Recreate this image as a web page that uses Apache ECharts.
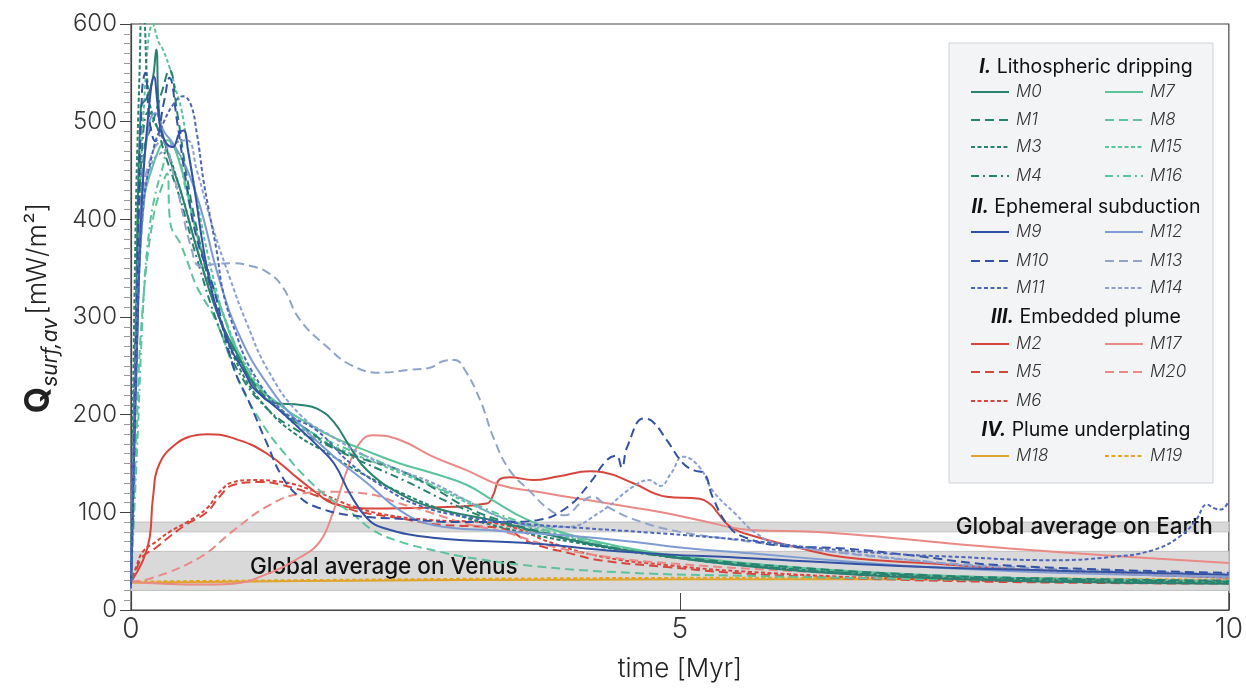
<!DOCTYPE html>
<html><head><meta charset="utf-8">
<script src="https://cdn.jsdelivr.net/npm/echarts@6/dist/echarts.min.js"></script>
<style>html,body{margin:0;padding:0;background:#fff}#c{width:1246px;height:688px}</style>
</head><body><div id="c"></div><script>
// ---- data: [time Myr, Q mW/m2] ----
const M0 = [[0,28],[0.04,250],[0.09,515],[0.15,525],[0.2,545],[0.23,574],[0.26,505],[0.33,470],[0.45,430],[0.6,370],[0.8,300],[1.0,255],[1.15,225],[1.3,212],[1.55,210],[1.7,206],[1.85,192],[2.0,166],[2.15,143],[2.45,119],[2.75,105],[3.36,90],[4,72],[5,53],[6,41],[7,34],[8,30],[9,28],[10,27]];
const M1 = [[0,28],[0.05,300],[0.12,470],[0.2,500],[0.28,530],[0.35,553],[0.42,510],[0.5,450],[0.6,390],[0.75,320],[0.9,275],[1.1,235],[1.35,205],[1.6,185],[1.84,167],[2.1,155],[2.45,143],[2.8,122],[3.06,105],[3.36,92],[3.8,78],[4.3,65],[5,54],[6,44],[7,37],[8,33],[10,30]];
const M3 = [[0,28],[0.04,380],[0.08,560],[0.1,615],[0.12,610],[0.15,540],[0.2,505],[0.3,480],[0.45,430],[0.6,370],[0.8,300],[1.0,245],[1.25,205],[1.5,180],[1.8,160],[2.1,140],[2.5,118],[2.9,100],[3.4,84],[4,70],[5,53],[6,42],[7,35],[8,31],[10,28]];
const M4 = [[0,28],[0.05,330],[0.1,470],[0.16,510],[0.22,500],[0.3,470],[0.45,420],[0.6,360],[0.8,290],[1.0,240],[1.25,205],[1.5,185],[1.8,168],[2.1,152],[2.5,132],[2.9,110],[3.3,92],[3.8,77],[4.4,63],[5,53],[6,42],[7,36],[8,32],[10,29]];
const M7 = [[0,28],[0.05,260],[0.11,409],[0.2,455],[0.33,481],[0.45,455],[0.6,385],[0.8,315],[1.08,240],[1.38,208],[1.6,192],[1.84,177],[2.1,165],[2.45,150],[2.75,140],[3.06,128],[3.3,112],[3.6,93],[4.0,77],[4.5,64],[5,55],[6,44],[7,37],[8,33],[10,29]];
const M8 = [[0,28],[0.05,180],[0.1,300],[0.2,400],[0.3,440],[0.33,447],[0.36,395],[0.45,375],[0.51,358],[0.6,331],[0.77,297],[1.0,230],[1.2,190],[1.4,160],[1.6,135],[1.8,115],[2.0,100],[2.2,82],[2.45,70],[2.8,60],[3.06,54],[3.66,45],[4.57,38],[5.6,35],[7,32],[8.5,30],[10,29]];
const M15 = [[0,28],[0.06,330],[0.12,520],[0.2,600],[0.25,582],[0.29,574],[0.35,556],[0.4,536],[0.46,512],[0.51,478],[0.6,420],[0.75,340],[0.9,285],[1.1,240],[1.35,205],[1.6,182],[1.9,165],[2.2,152],[2.5,138],[2.8,124],[3.1,108],[3.5,90],[4,74],[4.5,62],[5,54],[6,43],[7,36],[8,32],[10,29]];
const M16 = [[0,28],[0.05,150],[0.12,330],[0.17,392],[0.22,425],[0.29,454],[0.35,478],[0.42,470],[0.5,430],[0.65,365],[0.85,300],[1.05,250],[1.3,212],[1.6,185],[1.9,168],[2.2,155],[2.5,140],[2.8,125],[3.1,110],[3.5,92],[4,75],[4.5,63],[5,55],[6,44],[7,37],[8,33],[10,30]];
const M9 = [[0,25],[0.05,250],[0.1,420],[0.16,510],[0.21,546],[0.24,520],[0.27,492],[0.32,478],[0.38,474],[0.44,488],[0.48,491],[0.52,470],[0.58,430],[0.66,370],[0.75,320],[0.85,285],[0.93,263],[1.0,250],[1.05,240],[1.11,228],[1.24,215],[1.4,200],[1.55,184],[1.7,168],[1.85,150],[2.0,118],[2.15,94],[2.3,84],[2.75,74],[3.66,68],[4.57,59],[5.64,53],[7,45],[8.5,40],[10,36]];
const M10 = [[0,28],[0.05,300],[0.1,530],[0.13,550],[0.17,500],[0.22,480],[0.3,520],[0.35,545],[0.42,500],[0.5,440],[0.6,380],[0.75,330],[0.93,250],[1.08,212],[1.24,170],[1.38,136],[1.54,115],[1.7,105],[2.0,97],[2.5,93],[3.0,90],[3.4,90],[3.7,92],[3.97,105],[4.18,130],[4.33,153],[4.42,158],[4.47,146],[4.52,167],[4.67,196],[4.75,193],[4.88,174],[5.03,150],[5.13,143],[5.22,140],[5.3,115],[5.45,85],[5.6,74],[5.9,66],[6.5,63],[7.1,56],[7.9,46],[10,38]];
const M11 = [[0,22],[0.05,250],[0.1,400],[0.2,470],[0.3,500],[0.4,520],[0.47,526],[0.54,519],[0.6,488],[0.66,440],[0.72,403],[0.78,368],[0.84,325],[0.95,285],[1.1,245],[1.38,204],[1.69,184],[2.0,150],[2.3,126],[2.6,108],[3.06,95],[3.5,89],[3.97,85],[4.88,78],[5.64,71],[6.2,64],[7.0,57],[7.4,55],[8.4,51],[8.9,54],[9.3,61],[9.55,75],[9.7,92],[9.8,108],[9.87,104],[9.93,103],[10,112]];
const M12 = [[0,25],[0.05,280],[0.1,430],[0.17,500],[0.22,509],[0.3,490],[0.38,478],[0.5,454],[0.63,413],[0.8,340],[1.0,278],[1.25,230],[1.54,190],[1.84,158],[2.15,130],[2.45,102],[2.75,87],[3.36,81],[4.0,76],[4.57,70],[5.0,64],[5.64,58],[6.5,50],[7.4,43],[8.5,38],[10,34]];
const M13 = [[0,28],[0.05,300],[0.1,420],[0.2,470],[0.28,480],[0.4,440],[0.55,370],[0.63,352],[0.75,354],[0.93,355],[1.1,352],[1.24,346],[1.38,331],[1.54,297],[1.8,268],[2.0,251],[2.27,243],[2.54,246],[2.72,248],[2.85,255],[2.95,256],[3.04,246],[3.18,215],[3.31,174],[3.45,143],[3.63,122],[3.82,102],[3.95,97],[4.1,110],[4.2,116],[4.35,105],[4.6,92],[5.0,80],[5.5,72],[6,65],[7,52],[8,44],[9,40],[10,37]];
const M14 = [[0,25],[0.05,260],[0.12,420],[0.2,460],[0.3,470],[0.4,478],[0.51,481],[0.6,450],[0.75,390],[0.9,340],[1.05,295],[1.25,245],[1.54,200],[1.84,177],[2.15,157],[2.45,143],[2.75,130],[3.06,112],[3.36,95],[3.66,86],[3.97,85],[4.27,100],[4.57,126],[4.72,133],[4.82,127],[4.92,140],[5.03,157],[5.18,146],[5.3,122],[5.5,99],[5.7,78],[5.9,68],[6.8,55],[8,42],[9,37],[10,33]];
const M2 = [[0,29],[0.11,51],[0.17,74],[0.2,115],[0.26,150],[0.42,171],[0.55,178],[0.69,180],[0.93,176],[1.24,160],[1.54,133],[1.7,119],[1.84,109],[2.15,104],[2.75,105],[3.24,109],[3.3,118],[3.36,134],[3.45,136],[3.66,133],[3.9,137],[4.18,142],[4.3,141],[4.57,130],[4.88,116],[5.18,114],[5.28,108],[5.34,100],[5.45,86],[5.6,78],[6.07,64],[6.5,54],[7.37,47],[8,42],[9,37],[10,33]];
const M5 = [[0,28],[0.05,42],[0.11,55],[0.23,64],[0.35,75],[0.51,88],[0.69,100],[0.8,115],[0.93,128],[1.17,131],[1.38,128],[1.69,117],[2.0,103],[2.15,99],[2.45,94],[2.75,88],[3.06,86],[3.36,84],[3.66,68],[4.0,58],[4.27,51],[4.88,44],[5.64,37],[7,31],[8.5,28],[10,27]];
const M6 = [[0,28],[0.05,45],[0.11,60],[0.23,70],[0.35,80],[0.51,90],[0.69,104],[0.8,120],[0.93,131],[1.1,133],[1.38,131],[1.69,121],[2.0,107],[2.3,98],[2.75,92],[3.2,90],[3.5,84],[3.8,70],[4.27,55],[4.88,46],[5.64,39],[7,32],[8.5,29],[10,28]];
const M17 = [[0,29],[0.3,27],[0.6,26],[0.93,27],[1.24,37],[1.54,54],[1.72,70],[1.84,100],[1.99,150],[2.09,172],[2.2,179],[2.45,174],[2.75,157],[3.06,143],[3.36,128],[3.7,121],[3.97,116],[4.57,105],[4.88,99],[5.18,92],[5.64,82],[6.21,80],[6.82,75],[7.37,69],[8.0,63],[9.0,55],[10,48]];
const M20 = [[0,29],[0.2,33],[0.63,54],[0.93,81],[1.24,106],[1.54,119],[1.8,121],[2.15,119],[2.45,109],[2.75,99],[3.06,88],[3.4,80],[3.8,66],[4.3,55],[5,47],[6,40],[7,35],[8.5,32],[10,30]];
const M18 = [[0,28],[2,30],[4,31],[6,31.5],[8,31],[10,30]];
const M19 = [[0,29],[2,31],[4,32.5],[6,33],[8,32.5],[10,31]];

const EARTH_BAND = [80, 90];
const VENUS_BAND = [20, 60];
const X_RANGE = [0, 10];
const Y_RANGE = [0, 600];
const GROUP_TITLES = [['I.', 'Lithospheric dripping'], ['II.', 'Ephemeral subduction'], ['III.', 'Embedded plume'], ['IV.', 'Plume underplating']];
const BAND_LABELS = ['Global average on Earth', 'Global average on Venus'];

// ---- styling ----
const FONT = 'Inter, "Noto Sans", sans-serif';
const COL = {teal:'#2a8170', mint:'#5dc39b', blue:'#3452a4', blueM:'#4d66b8', blueL:'#7e9bd2', blueG:'#8fa4c8', blueLD:'#8c9fd0', red:'#d7463c', pink:'#ea8a86', gold:'#e0a52a'};
const DASH = {solid:'solid', dashed:[9,5], dotted:[4,2.5], dashdot:[8,4,2,4]};

const defs = [
  ['M18', M18, COL.gold, 'solid'], ['M19', M19, COL.gold, 'dotted'],
  ['M2', M2, COL.red, 'solid'], ['M5', M5, COL.red, 'dashed'], ['M6', M6, COL.red, 'dotted'],
  ['M17', M17, COL.pink, 'solid'], ['M20', M20, COL.pink, 'dashed'],
  ['M7', M7, COL.mint, 'solid'], ['M8', M8, COL.mint, 'dashed'], ['M15', M15, COL.mint, 'dotted'], ['M16', M16, COL.mint, 'dashdot'],
  ['M0', M0, COL.teal, 'solid'], ['M1', M1, COL.teal, 'dashed'], ['M3', M3, COL.teal, 'dotted'], ['M4', M4, COL.teal, 'dashdot'],
  ['M12', M12, COL.blueL, 'solid'], ['M13', M13, COL.blueG, 'dashed'], ['M14', M14, COL.blueLD, 'dotted'],
  ['M9', M9, COL.blue, 'solid'], ['M10', M10, COL.blue, 'dashed'], ['M11', M11, COL.blueM, 'dotted']
];

const series = [{
  type:'line', name:'bands', data:[], silent:true, z:1,
  markArea:{silent:true, itemStyle:{color:'#d9d9d9', borderColor:'#c2c2c2', borderWidth:1},
    data:[[{yAxis:EARTH_BAND[0]},{yAxis:EARTH_BAND[1]}],[{yAxis:VENUS_BAND[0]},{yAxis:VENUS_BAND[1]}]]}
}];
defs.forEach(d => series.push({
  type:'line', name:d[0], data:d[1], symbol:'none', smooth:0.45, z:2,
  color:d[2], lineStyle:{color:d[2], width:2, type:DASH[d[3]]}, emphasis:{disabled:true}
}));
series.push({
  type:'line', name:'bandLabels', data:[], silent:true, z:20,
  markArea:{silent:true, itemStyle:{color:'rgba(0,0,0,0)'},
    label:{fontFamily:FONT, fontSize:22.5, fontWeight:500, color:'#111'},
    data:[[{yAxis:EARTH_BAND[0], name:BAND_LABELS[0], label:{position:'insideRight', offset:[-11,0]}},{yAxis:EARTH_BAND[1]}],
          [{yAxis:VENUS_BAND[0], name:BAND_LABELS[1], label:{position:'insideLeft', offset:[114,-4]}},{yAxis:VENUS_BAND[1]}]]}
});

// legend layout (one legend per entry)
const legendRows = [
  ['M0',970,92],['M1',970,120],['M3',970,147],['M4',970,176],
  ['M7',1104,92],['M8',1104,120],['M15',1104,147],['M16',1104,176],
  ['M9',970,232],['M10',970,261],['M11',970,288],
  ['M12',1104,232],['M13',1104,261],['M14',1104,288],
  ['M2',970,344],['M5',970,372],['M6',970,401],
  ['M17',1104,344],['M20',1104,372],
  ['M18',970,456],['M19',1104,456]
];
const legends = legendRows.map(r => ({
  data:[r[0]], left:r[1], top:r[2]-10, padding:0, itemWidth:38, itemHeight:14, itemGap:0,
  selectedMode:false,
  itemStyle:{color:'rgba(0,0,0,0)', borderWidth:0, borderColor:'rgba(0,0,0,0)', opacity:0},
  textStyle:{fontFamily:FONT, fontSize:17, fontStyle:'italic', fontWeight:300, color:'#333', lineHeight:20, padding:[0,0,0,2]}
}));

const titleY = [67, 207, 317, 430];
const graphics = [{type:'rect', z:3, shape:{x:949, y:43, width:264, height:440}, style:{fill:'#f3f4f6', stroke:'#cfd3d8', lineWidth:1}}];
GROUP_TITLES.forEach((g, i) => graphics.push({
  type:'text', z:5, x:1086, y:titleY[i],
  style:{text:'{b|' + g[0] + '} ' + g[1], align:'center', verticalAlign:'middle', fontFamily:FONT, fontSize:19.5, fill:'#111',
    rich:{b:{fontFamily:FONT, fontSize:19.5, fontWeight:'bold', fontStyle:'italic', fill:'#111'}}}
}));

const option = {
  animation:false,
  backgroundColor:'#fff',
  grid:{left:131, right:17, top:24, bottom:78, show:true, borderColor:'#444', borderWidth:1.2, backgroundColor:'transparent'},
  xAxis:{type:'value', min:X_RANGE[0], max:X_RANGE[1], interval:5,
    name:'time [Myr]', nameLocation:'middle', nameGap:46,
    nameTextStyle:{fontFamily:FONT, fontSize:26, fontWeight:300, color:'#222'},
    axisLine:{lineStyle:{color:'#444', width:1.2}},
    axisTick:{inside:true, length:17, lineStyle:{color:'#444'}},
    axisLabel:{fontFamily:FONT, fontSize:28, fontWeight:300, color:'#333', margin:6},
    splitLine:{show:false}},
  yAxis:{type:'value', min:Y_RANGE[0], max:Y_RANGE[1], interval:100,
    name:'{q|Q}{s|surf,av} {u|[mW/m²]}', nameLocation:'middle', nameGap:68,
    nameTextStyle:{padding:[0,0,0,18], rich:{
      q:{fontFamily:FONT, fontSize:34, fontWeight:'bold', color:'#222', lineHeight:46},
      s:{fontFamily:FONT, fontSize:21, fontStyle:'italic', color:'#222', lineHeight:21, verticalAlign:'bottom'},
      u:{fontFamily:FONT, fontSize:27, fontWeight:300, color:'#222', lineHeight:46}}},
    axisLine:{show:true, lineStyle:{color:'#444', width:1.2}},
    axisTick:{show:true, length:11, lineStyle:{color:'#444'}},
    minorTick:{show:true, splitNumber:10, length:7, lineStyle:{color:'#999'}},
    axisLabel:{fontFamily:FONT, fontSize:24, fontWeight:300, color:'#333', margin:14},
    splitLine:{show:false}},
  legend:legends,
  graphic:graphics,
  series:series
};
const chart = echarts.init(document.getElementById('c'));
chart.setOption(option);
</script></body></html>
